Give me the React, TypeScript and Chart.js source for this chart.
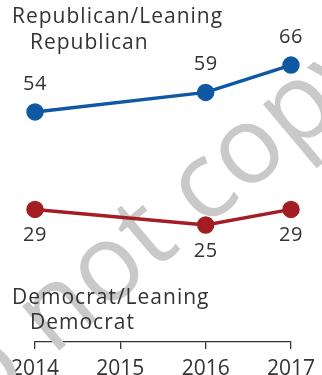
import React, { useEffect, useRef } from "react";
import { Chart, registerables } from "chart.js";

Chart.register(...registerables);

const years = ["2014", "2015", "2016", "2017"];
const republican = [54, null, 59, 66];
const democrat = [29, null, 25, 29];
const repLabel = ["Republican/Leaning", "Republican"];
const demLabel = ["Democrat/Leaning", "Democrat"];
const watermark = "Do not copy";

const FONT = "'Open Sans', sans-serif";
const TEXT = "#333333";

export default function App() {
  const ref = useRef<HTMLCanvasElement>(null);
  useEffect(() => {
    const canvas = ref.current;
    if (!canvas) return;
    const plugin = {
      id: "annot",
      beforeDatasetsDraw(chart: any) {
        const ctx = chart.ctx;
        ctx.save();
        ctx.fillStyle = "#c9c9c9";
        ctx.font = `108px ${FONT}`;
        ctx.textAlign = "center";
        ctx.textBaseline = "alphabetic";
        ctx.translate(153, 272);
        ctx.rotate((-40 * Math.PI) / 180);
        ctx.fillText(watermark, 0, 0);
        ctx.restore();
      },
      afterDatasetsDraw(chart: any) {
        const ctx = chart.ctx;
        ctx.save();
        ctx.fillStyle = TEXT;
        ctx.font = `20px ${FONT}`;
        ctx.textAlign = "center";
        ctx.textBaseline = "middle";
        (ctx as any).letterSpacing = "0.5px";
        chart.data.datasets.forEach((ds: any, i: number) => {
          const meta = chart.getDatasetMeta(i);
          meta.data.forEach((pt: any, j: number) => {
            const v = ds.data[j];
            if (v == null) return;
            const dy = i === 0 ? -28 : 26;
            ctx.fillText(String(v), pt.x, pt.y + dy);
          });
        });
        ctx.font = `21px ${FONT}`;
        (ctx as any).letterSpacing = "1px";
        ctx.textAlign = "left";
        ctx.fillText(repLabel[0], 12, 17);
        ctx.fillText(repLabel[1], 30, 43);
        ctx.fillText(demLabel[0], 12, 298);
        ctx.fillText(demLabel[1], 30, 323);
        ctx.restore();
      },
    };
    const chart = new Chart(canvas, {
      type: "line",
      data: {
        labels: years,
        datasets: [
          {
            data: republican,
            borderColor: "#0f58a4",
            backgroundColor: "#0f58a4",
            borderWidth: 3.5,
            pointRadius: 7,
            pointHoverRadius: 7,
            spanGaps: true,
          },
          {
            data: democrat,
            borderColor: "#a31d22",
            backgroundColor: "#a31d22",
            borderWidth: 3.5,
            pointRadius: 7,
            pointHoverRadius: 7,
            spanGaps: true,
          },
        ],
      },
      options: {
        animation: false,
        responsive: true,
        maintainAspectRatio: false,
        layout: { padding: { left: 35, right: 25, top: 8, bottom: 0 } },
        plugins: { legend: { display: false }, tooltip: { enabled: false } },
        scales: {
          x: {
            offset: false,
            afterFit: (scale: any) => {
              scale.height = 41;
            },
            grid: {
              drawOnChartArea: false,
              drawTicks: true,
              tickLength: 7,
              color: "#333333",
              lineWidth: 1.3,
            },
            border: { display: true, color: "#333333", width: 1.3 },
            ticks: {
              color: TEXT,
              font: { family: FONT, size: 21 },
              padding: 7,
              maxRotation: 0,
              autoSkip: false,
            },
          },
          y: { display: false, min: -5, max: 80 },
        },
      },
      plugins: [plugin],
    });
    return () => chart.destroy();
  }, []);
  return (
    <div style={{ position: "fixed", left: 0, top: 0, width: 322, height: 383, background: "#fff" }}>
      <canvas ref={ref} />
    </div>
  );
}
